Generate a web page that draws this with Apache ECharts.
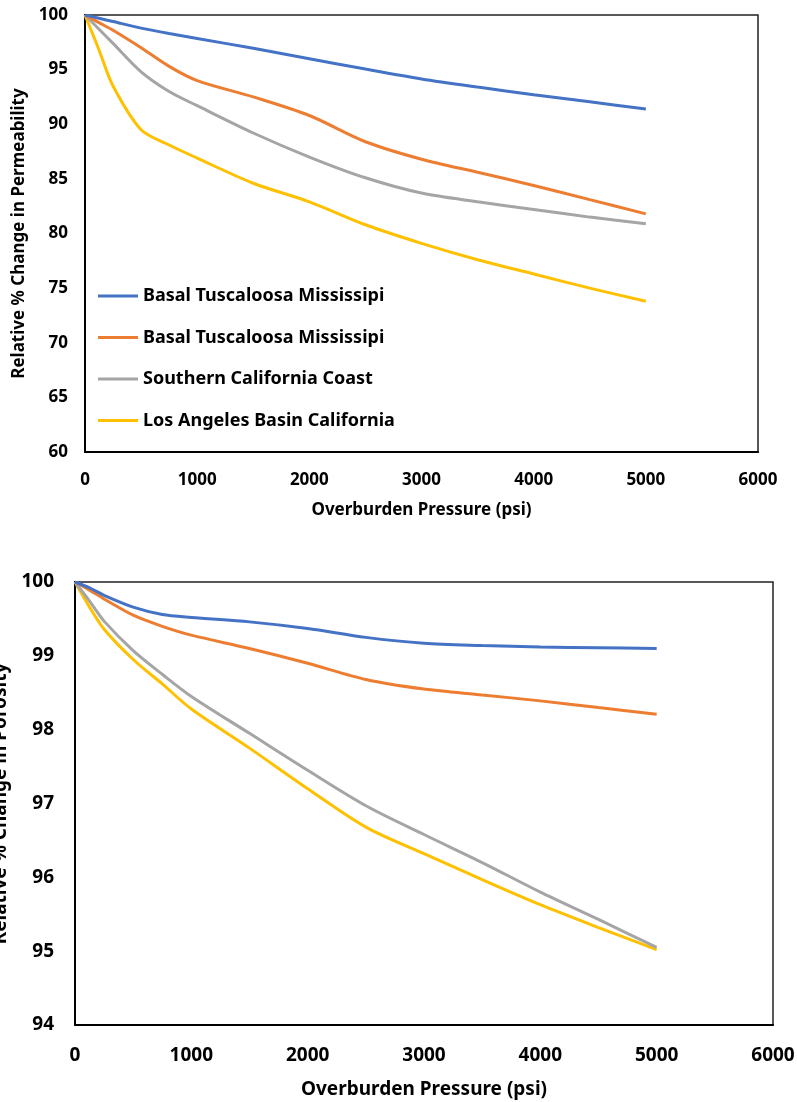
<!DOCTYPE html>
<html>
<head>
<meta charset="utf-8">
<title>Overburden pressure vs permeability and porosity</title>
<script src="https://cdn.jsdelivr.net/npm/echarts@6/dist/echarts.min.js"></script>
<style>
  html, body { margin: 0; padding: 0; background: #fff; }
  #chart { width: 797px; height: 1102px; }
</style>
</head>
<body>
<div id="chart"></div>
<script>
// Overburden pressure (psi) at which each curve is sampled
const pressure = [0, 125, 250, 500, 750, 1000, 1500, 2000, 2500, 3000, 3500, 4000, 4500, 5000];

// Legend labels (two formations share the same name)
const seriesLabels = [
  'Basal Tuscaloosa Mississipi',
  'Basal Tuscaloosa Mississipi',
  'Southern California Coast',
  'Los Angeles Basin California'
];
const seriesKeys = ['basalA', 'basalB', 'socal', 'labasin'];
const seriesColors = ['#4472C4', '#ED7D31', '#A5A5A5', '#FFC000'];

// Relative % change in permeability
const permBasalA  = [100, 99.7, 99.4, 98.8, 98.3, 97.85, 96.95, 96.0, 95.05, 94.15, 93.4, 92.7, 92.05, 91.4];
const permBasalB  = [100, 99.3, 98.6, 97.0, 95.3, 94.0, 92.5, 90.8, 88.4, 86.8, 85.6, 84.4, 83.1, 81.8];
const permSocal   = [100, 98.7, 97.4, 94.8, 93.0, 91.7, 89.2, 87.0, 85.1, 83.7, 82.9, 82.2, 81.5, 80.9];
const permLABasin = [100, 96.8, 93.5, 89.5, 88.1, 86.9, 84.6, 82.9, 80.8, 79.1, 77.6, 76.3, 75.0, 73.8];

// Relative % change in porosity
const poroBasalA  = [100, 99.92, 99.82, 99.66, 99.56, 99.52, 99.46, 99.37, 99.25, 99.17, 99.14, 99.12, 99.11, 99.10];
const poroBasalB  = [100, 99.89, 99.77, 99.55, 99.4, 99.28, 99.1, 98.9, 98.68, 98.55, 98.47, 98.39, 98.3, 98.21];
const poroSocal   = [100, 99.74, 99.47, 99.07, 98.75, 98.45, 97.95, 97.45, 96.97, 96.58, 96.2, 95.8, 95.43, 95.05];
const poroLABasin = [100, 99.66, 99.36, 98.95, 98.62, 98.28, 97.75, 97.2, 96.68, 96.32, 95.97, 95.63, 95.32, 95.02];

// Axis tick settings
const xTicks = { min: 0, max: 6000, interval: 1000 };
const permTicks = { min: 60, max: 100, interval: 5 };
const poroTicks = { min: 94, max: 100, interval: 1 };

const permSets = [permBasalA, permBasalB, permSocal, permLABasin];
const poroSets = [poroBasalA, poroBasalB, poroSocal, poroLABasin];

const labelByKey = {};
seriesKeys.forEach((k, i) => { labelByKey[k] = seriesLabels[i]; });

const FONT = '"Noto Sans", "Open Sans", Arial, sans-serif';

function pairs(values) {
  return pressure.map((p, i) => [p, values[i]]);
}

function makeSeries(sets, axisIndex) {
  return sets.map((vals, i) => ({
    type: 'line',
    name: seriesKeys[i],
    xAxisIndex: axisIndex,
    yAxisIndex: axisIndex,
    data: pairs(vals),
    smooth: 0.3,
    symbol: 'none',
    color: seriesColors[i],
    lineStyle: { width: 3, color: seriesColors[i] },
    z: 10 - i
  }));
}

function xAxisDef(gridIndex, fontSize, nameGap, margin) {
  return {
    type: 'value',
    gridIndex,
    min: xTicks.min, max: xTicks.max, interval: xTicks.interval,
    name: 'Overburden Pressure (psi)',
    nameLocation: 'middle',
    nameGap,
    nameTextStyle: { fontFamily: FONT, fontWeight: 'bold', fontSize, color: '#000' },
    axisLine: { show: true, lineStyle: { color: '#000', width: 2 } },
    axisTick: { show: false },
    splitLine: { show: false },
    axisLabel: {
      fontFamily: FONT, fontWeight: 'bold', fontSize, color: '#000', margin,
      formatter: (v) => String(v)
    }
  };
}

function yAxisDef(gridIndex, ticks, name, fontSize, nameGap, margin) {
  return {
    type: 'value',
    gridIndex,
    min: ticks.min, max: ticks.max, interval: ticks.interval,
    name,
    nameLocation: 'middle',
    nameGap,
    nameTextStyle: { fontFamily: FONT, fontWeight: 'bold', fontSize, color: '#000' },
    axisLine: { show: true, lineStyle: { color: '#000', width: 2 } },
    axisTick: { show: false },
    splitLine: { show: false },
    axisLabel: {
      fontFamily: FONT, fontWeight: 'bold', fontSize, color: '#000', margin,
      formatter: (v) => String(v)
    }
  };
}

const chart = echarts.init(document.getElementById('chart'), null, { renderer: 'canvas' });

chart.setOption({
  backgroundColor: '#fff',
  animation: false,
  grid: [
    { left: 85, top: 15, right: 39, bottom: 650, show: true, borderColor: '#222', borderWidth: 1.5,
      backgroundColor: 'transparent', outerBoundsMode: 'none' },
    { left: 75, top: 582, right: 24, bottom: 77, show: true, borderColor: '#222', borderWidth: 1.5,
      backgroundColor: 'transparent', outerBoundsMode: 'none' }
  ],
  legend: {
    orient: 'vertical',
    left: 93,
    top: 282,
    icon: 'rect',
    itemWidth: 40,
    itemHeight: 3,
    itemGap: 23.5,
    data: seriesKeys,
    formatter: (name) => labelByKey[name],
    textStyle: { fontFamily: FONT, fontWeight: 'bold', fontSize: 18, color: '#000' }
  },
  xAxis: [
    xAxisDef(0, 17, 50, 20),
    xAxisDef(1, 19, 55, 21)
  ],
  yAxis: [
    yAxisDef(0, permTicks, 'Relative % Change in Permeability', 17, 55, 17),
    yAxisDef(1, poroTicks, 'Relative % Change in Porosity', 19, 65, 21)
  ],
  series: [].concat(makeSeries(permSets, 0), makeSeries(poroSets, 1))
});
</script>
</body>
</html>
